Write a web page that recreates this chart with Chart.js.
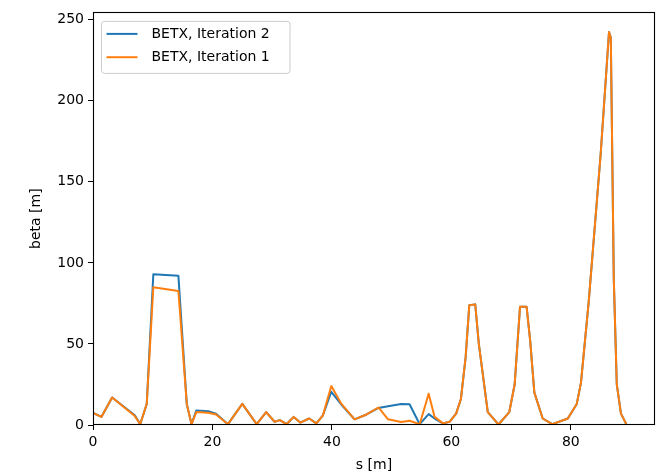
<!DOCTYPE html>
<html>
<head>
<meta charset="utf-8">
<script src="https://cdn.jsdelivr.net/npm/chart.js@4"></script>
<style>
  html, body { margin: 0; padding: 0; background: #fff; }
  #wrap { width: 658px; height: 475px; }
</style>
</head>
<body>
<div id="wrap"><canvas id="betaCvs" width="658" height="475"></canvas></div>
<script>
// s positions [m], shared by both iterations
const sValues = [0, 1.4, 3.2, 7.0, 7.9, 9.0, 10.1, 14.3, 15.7, 16.5, 17.3, 19.3, 20.6, 22.6, 25.0, 27.4, 29.0, 30.4, 31.3, 32.4,
  33.6, 34.7, 36.2, 37.4, 38.5, 39.9, 41.6, 43.8, 45.8, 47.8, 49.4, 51.6, 53.0, 54.7, 56.2, 57.2, 58.6, 59.7, 60.8, 61.6,
  62.4, 63.0, 64.0, 64.6, 66.1, 67.9, 69.7, 70.6, 71.5, 72.6, 73.2, 73.9, 75.3, 76.9, 79.5, 81.0, 81.7, 83.0, 85.0, 86.4,
  86.7, 87.2, 87.7, 88.4, 89.3];
// BETX, Iteration 1 (orange)
const betxIter1 = [7.5, 5, 17, 5.5, 0.5, 13, 85, 82.7, 13, 0.5, 8, 7.5, 6.5, 0.5, 13, 0.5, 8, 2, 3, 0.5,
  5, 1.5, 4, 1, 6, 24, 13, 3.5, 6.5, 10.8, 3.5, 1.8, 2.6, 0.5, 19.3, 5, 1, 2, 7, 16,
  42, 73.8, 74.4, 50, 8, 0.3, 8, 25, 73, 73, 52, 20, 4, 0.5, 4, 13, 26, 76, 167, 242.4,
  239, 90, 25, 7, 0.5];
// BETX, Iteration 2 (blue)
const betxIter2 = [7.5, 5, 17, 6, 0.5, 13, 93, 92, 13, 0.5, 9, 8.5, 7, 0.5, 13, 0.5, 8, 2, 3, 0.5,
  5, 1.5, 4, 1, 6, 20.5, 12.5, 3.5, 6.5, 10.5, 11.5, 13, 12.8, 0.5, 6.7, 4, 1, 2, 7, 16,
  42, 73.8, 74.4, 50, 8, 0.3, 8, 25, 73, 73, 52, 20, 4, 0.5, 4, 13, 26, 76, 167, 242.4,
  239, 90, 25, 7, 0.5];
const xTicks = [0, 20, 40, 60, 80];
const yTicks = [0, 50, 100, 150, 200, 250];
const seriesNames = ['BETX, Iteration 2', 'BETX, Iteration 1'];
const seriesColors = ['#1f77b4', '#ff7f0e'];

const font = {family: 'DejaVu Sans', size: 14};

// box round the axes + legend like matplotlib
const framePlugin = {
  id: 'frame',
  afterDatasetsDraw(chart) {
    const {ctx, chartArea: a} = chart;
    ctx.save();
    ctx.strokeStyle = '#000';
    ctx.lineWidth = 1.1;
    ctx.strokeRect(Math.round(a.left) + 0.5, Math.round(a.top) + 0.5,
      Math.round(a.right - a.left) - 1, Math.round(a.bottom - a.top) - 1);
    ctx.restore();
  },
  afterDraw(chart) {
    const {ctx, chartArea: a} = chart;
    const x0 = a.left + 8.5, y0 = a.top + 9;
    const w = 188.5, h = 52, r = 3;
    ctx.save();
    ctx.beginPath();
    ctx.roundRect(x0, y0, w, h, r);
    ctx.fillStyle = 'rgba(255,255,255,0.8)';
    ctx.fill();
    ctx.strokeStyle = '#cccccc';
    ctx.lineWidth = 1;
    ctx.stroke();
    ctx.font = '14px "DejaVu Sans"';
    ctx.textBaseline = 'middle';
    ctx.fillStyle = '#000';
    seriesNames.forEach((name, i) => {
      const y = y0 + 12.5 + i * 23.3;
      ctx.beginPath();
      ctx.moveTo(x0 + 5, y);
      ctx.lineTo(x0 + 36, y);
      ctx.strokeStyle = seriesColors[i];
      ctx.lineWidth = 2;
      ctx.stroke();
      ctx.fillText(name, x0 + 50, y + 0.5);
    });
    ctx.restore();
  }
};

const cvs = document.getElementById('betaCvs');
const ctx = cvs.getContext('2d');
const chart = new Chart(ctx, {
  type: 'line',
  data: {
    datasets: [
      // orange first so it is drawn on top, as in the original
      {
        label: seriesNames[1],
        data: sValues.map((s, i) => ({x: s, y: betxIter1[i]})),
        borderColor: seriesColors[1],
        borderWidth: 2,
        pointRadius: 0,
        tension: 0,
        fill: false,
        borderJoinStyle: 'round'
      },
      {
        label: seriesNames[0],
        data: sValues.map((s, i) => ({x: s, y: betxIter2[i]})),
        borderColor: seriesColors[0],
        borderWidth: 2,
        pointRadius: 0,
        tension: 0,
        fill: false,
        borderJoinStyle: 'round'
      }
    ]
  },
  options: {
    responsive: false,
    animation: false,
    devicePixelRatio: 1,
    layout: {padding: {left: 0, top: 7, right: 3, bottom: 0}},
    plugins: {legend: {display: false}, tooltip: {enabled: false}},
    scales: {
      x: {
        type: 'linear',
        min: 0,
        max: 94.1,
        afterBuildTicks: (scale) => { scale.ticks = xTicks.map(v => ({value: v})); },
        afterFit: (scale) => { scale.height = 50; },
        grid: {drawOnChartArea: false, drawTicks: true, tickLength: 5, color: '#000', lineWidth: 1},
        border: {display: false},
        ticks: {font: font, color: '#000', padding: 4, maxRotation: 0},
        title: {display: true, text: 's [m]', font: font, color: '#000', padding: {top: 0, bottom: 1}}
      },
      y: {
        type: 'linear',
        min: 0,
        max: 254.5,
        afterBuildTicks: (scale) => { scale.ticks = yTicks.map(v => ({value: v})); },
        afterFit: (scale) => { scale.width = 93; },
        grid: {drawOnChartArea: false, drawTicks: true, tickLength: 5, color: '#000', lineWidth: 1},
        border: {display: false},
        ticks: {font: font, color: '#000', padding: 4},
        title: {display: true, text: 'beta [m]', font: font, color: '#000', padding: {top: 28, bottom: 0}}
      }
    }
  },
  plugins: [framePlugin]
});
</script>
</body>
</html>
